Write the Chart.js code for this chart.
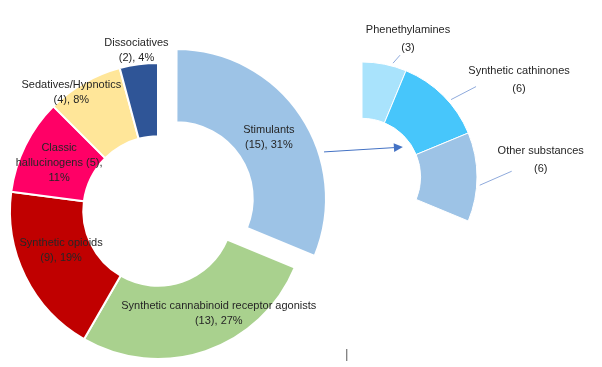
<!DOCTYPE html>
<html>
<head>
<meta charset="utf-8">
<script src="https://cdn.jsdelivr.net/npm/chart.js@4.4.1/dist/chart.umd.min.js"></script>
<style>
  body { margin: 0; background: #fff; }
  #wrap { position: relative; width: 602px; height: 367px; }
  canvas { position: absolute; left: 0; top: 0; }
</style>
</head>
<body>
<div id="wrap">
  <canvas id="main" width="602" height="367"></canvas>
  <canvas id="detail" width="602" height="367"></canvas>
</div>
<script>
// main ring: substance groups
const mainCategories = ['Stimulants', 'Synthetic cannabinoid receptor agonists', 'Synthetic opioids',
  'Classic hallucinogens', 'Sedatives/Hypnotics', 'Dissociatives'];
const mainCounts = [15, 13, 9, 5, 4, 2];
const mainPercents = [31, 27, 19, 11, 8, 4];
const mainColors = ['#9DC3E6', '#A9D18E', '#C00000', '#FF0066', '#FFE699', '#2F5597'];

// breakdown of stimulants
const stimCategories = ['Phenethylamines', 'Synthetic cathinones', 'Other substances'];
const stimCounts = [3, 6, 6];
const stimColors = ['#A9E3FC', '#47C6FB', '#9DC3E6'];

const FONT = '11px "Liberation Sans", Arial, sans-serif';
const TEXT = '#262626';
// pulled-out distance of the stimulants slice (chart.js draws offset / 4)
const PULL = 22;

function drawLines(ctx, lines, x, y, lh) {
    const top = y - (lines.length - 1) * lh / 2;
    lines.forEach((t, k) => ctx.fillText(t, x, top + k * lh));
}

// label text for the main ring
function mainLines(i) {
    const n = mainCounts[i], p = mainPercents[i] + '%';
    if (i === 3) return ['Classic', 'hallucinogens (' + n + '),', p];
    return [mainCategories[i], '(' + n + '), ' + p];
}

// nudges from the middle of each ring segment (Excel "best fit" placement)
const mainNudge = [[0, 1], [25, -3], [3, -10], [1, 1], [-31, -22], [-7, -50]];

const mainLabels = {
    id: 'mainLabels',
    afterDatasetsDraw(chart) {
        const ctx = chart.ctx;
        ctx.save();
        ctx.font = FONT;
        ctx.fillStyle = TEXT;
        ctx.textAlign = 'center';
        ctx.textBaseline = 'middle';
        chart.getDatasetMeta(0).data.forEach((arc, i) => {
            const mid = (arc.startAngle + arc.endAngle) / 2;
            const off = (arc.options.offset || 0) / 4;
            const r = (arc.innerRadius + arc.outerRadius) / 2;
            const x = arc.x + Math.cos(mid) * (r + off) + mainNudge[i][0];
            const y = arc.y + Math.sin(mid) * (r + off) + mainNudge[i][1];
            drawLines(ctx, mainLines(i), x, y, 15);
        });
        ctx.restore();
    }
};

// leader line vector and label offset for each detail slice
const leader = [[7, -8], [25, -13], [32, -14]];
const leaderLabel = [[8, -16], [43, -7], [29, -11]];

const detailLabels = {
    id: 'detailLabels',
    afterDatasetsDraw(chart) {
        const ctx = chart.ctx;
        ctx.save();
        ctx.font = FONT;
        ctx.textAlign = 'center';
        ctx.textBaseline = 'middle';
        chart.getDatasetMeta(0).data.forEach((arc, i) => {
            const mid = (arc.startAngle + arc.endAngle) / 2 + 4 * Math.PI / 180;
            const r = arc.outerRadius + 3;
            const sx = arc.x + Math.cos(mid) * r;
            const sy = arc.y + Math.sin(mid) * r;
            const ex = sx + leader[i][0], ey = sy + leader[i][1];
            ctx.strokeStyle = '#8FAADC';
            ctx.lineWidth = 1;
            ctx.beginPath();
            ctx.moveTo(sx, sy);
            ctx.lineTo(ex, ey);
            ctx.stroke();
            ctx.fillStyle = TEXT;
            drawLines(ctx, [stimCategories[i], '(' + stimCounts[i] + ')'],
                ex + leaderLabel[i][0], ey + leaderLabel[i][1], 18);
        });

        // arrow from the stimulants slice into the breakdown ring
        const main = Chart.getChart('main');
        const stim = main.getDatasetMeta(0).data[0];
        const sMid = (stim.startAngle + stim.endAngle) / 2;
        const cx = stim.x + Math.cos(sMid) * PULL;
        const cy = stim.y + Math.sin(sMid) * PULL;
        const a1 = -17.6 * Math.PI / 180;
        const x1 = cx + Math.cos(a1) * (stim.outerRadius + 7);
        const y1 = cy + Math.sin(a1) * (stim.outerRadius + 7);
        const d = chart.getDatasetMeta(0).data[0];
        const a2 = -36.2 * Math.PI / 180;
        const x2 = d.x + Math.cos(a2) * (d.innerRadius - 8);
        const y2 = d.y + Math.sin(a2) * (d.innerRadius - 8);
        const ang = Math.atan2(y2 - y1, x2 - x1);
        ctx.strokeStyle = '#4472C4';
        ctx.fillStyle = '#4472C4';
        ctx.lineWidth = 1;
        ctx.beginPath();
        ctx.moveTo(x1, y1);
        ctx.lineTo(x2 - Math.cos(ang) * 6, y2 - Math.sin(ang) * 6);
        ctx.stroke();
        ctx.beginPath();
        ctx.moveTo(x2, y2);
        ctx.lineTo(x2 - Math.cos(ang) * 9 + Math.sin(ang) * 4.5, y2 - Math.sin(ang) * 9 - Math.cos(ang) * 4.5);
        ctx.lineTo(x2 - Math.cos(ang) * 9 - Math.sin(ang) * 4.5, y2 - Math.sin(ang) * 9 + Math.cos(ang) * 4.5);
        ctx.closePath();
        ctx.fill();

        // stray cursor mark near the bottom of the picture
        ctx.strokeStyle = '#7F7F7F';
        ctx.lineWidth = 1.3;
        ctx.beginPath();
        ctx.moveTo(346.7, 349);
        ctx.lineTo(346.7, 361);
        ctx.stroke();
        ctx.restore();
    }
};

new Chart(document.getElementById('main'), {
    type: 'doughnut',
    data: {
        labels: mainCategories,
        datasets: [{
            data: mainCounts,
            backgroundColor: mainColors,
            borderColor: '#ffffff',
            borderWidth: 2,
            offset: mainCounts.map((v, i) => i === 0 ? PULL * 4 : 0)
        }]
    },
    options: {
        responsive: false,
        animation: false,
        radius: 148,
        cutout: '50.5%',
        layout: { padding: { left: 0, right: 286, top: 55, bottom: 0 } },
        plugins: { legend: { display: false }, tooltip: { enabled: false } }
    },
    plugins: [mainLabels]
});

new Chart(document.getElementById('detail'), {
    type: 'doughnut',
    data: {
        labels: stimCategories,
        datasets: [{
            data: stimCounts,
            backgroundColor: stimColors,
            borderColor: '#ffffff',
            borderWidth: 1
        }]
    },
    options: {
        responsive: false,
        animation: false,
        rotation: 0,
        circumference: 112.5,
        radius: 115,
        cutout: '51%',
        layout: { padding: { left: 300, right: 63, top: 0, bottom: 84 } },
        plugins: { legend: { display: false }, tooltip: { enabled: false } }
    },
    plugins: [detailLabels]
});
</script>
</body>
</html>
